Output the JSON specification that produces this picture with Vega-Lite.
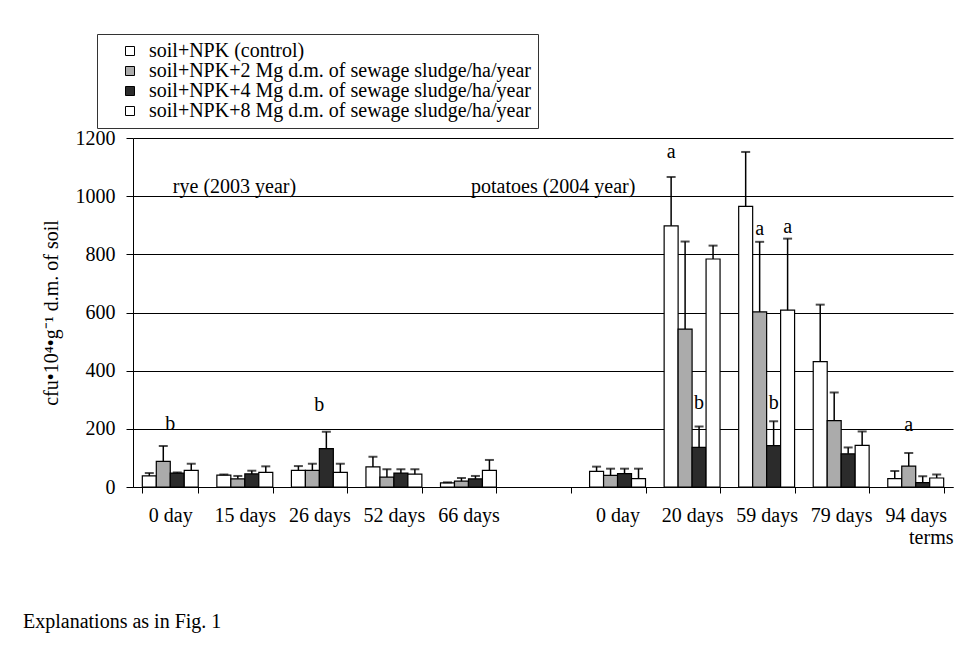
{
  "$schema": "https://vega.github.io/schema/vega-lite/v6.json",
  "width": 820,
  "height": 349,
  "autosize": {"type": "none"},
  "padding": {"left": 133, "top": 138, "right": 3, "bottom": 169},
  "background": "white",
  "title": {"text": "Explanations as in Fig. 1", "orient": "bottom", "anchor": "start", "frame": "group", "dx": -110, "offset": 65, "font": "Liberation Serif", "fontSize": 20, "fontWeight": "normal", "color": "black"},
  "config": {
    "view": {"stroke": null},
    "font": "Liberation Serif",
    "legend": {
      "orient": "none", "legendX": -36, "legendY": -104, "title": null,
      "strokeColor": "#333", "padding": 7, "symbolOffset": 16, "symbolType": "square", "symbolSize": 81,
      "symbolStrokeColor": "black", "symbolStrokeWidth": 1, "labelFont": "Liberation Serif", "labelFontSize": 20,
      "labelColor": "black", "rowPadding": 0, "labelOffset": 9, "labelLimit": 1000, "fillColor": "white"
    }
  },
  "datasets": {
    "bars": [
      {"term": "rye|0 day", "series": "soil+NPK (control)", "value": 38, "err": 48},
      {"term": "rye|0 day", "series": "soil+NPK+2 Mg d.m. of sewage sludge/ha/year", "value": 88, "err": 141},
      {"term": "rye|0 day", "series": "soil+NPK+4 Mg d.m. of sewage sludge/ha/year", "value": 48, "err": 50},
      {"term": "rye|0 day", "series": "soil+NPK+8 Mg d.m. of sewage sludge/ha/year", "value": 57, "err": 80},
      {"term": "rye|15 days", "series": "soil+NPK (control)", "value": 41, "err": 43},
      {"term": "rye|15 days", "series": "soil+NPK+2 Mg d.m. of sewage sludge/ha/year", "value": 28, "err": 38},
      {"term": "rye|15 days", "series": "soil+NPK+4 Mg d.m. of sewage sludge/ha/year", "value": 45, "err": 56},
      {"term": "rye|15 days", "series": "soil+NPK+8 Mg d.m. of sewage sludge/ha/year", "value": 50, "err": 71},
      {"term": "rye|26 days", "series": "soil+NPK (control)", "value": 57, "err": 72},
      {"term": "rye|26 days", "series": "soil+NPK+2 Mg d.m. of sewage sludge/ha/year", "value": 57, "err": 80},
      {"term": "rye|26 days", "series": "soil+NPK+4 Mg d.m. of sewage sludge/ha/year", "value": 132, "err": 190},
      {"term": "rye|26 days", "series": "soil+NPK+8 Mg d.m. of sewage sludge/ha/year", "value": 50, "err": 80},
      {"term": "rye|52 days", "series": "soil+NPK (control)", "value": 69, "err": 104},
      {"term": "rye|52 days", "series": "soil+NPK+2 Mg d.m. of sewage sludge/ha/year", "value": 34, "err": 61},
      {"term": "rye|52 days", "series": "soil+NPK+4 Mg d.m. of sewage sludge/ha/year", "value": 48, "err": 61},
      {"term": "rye|52 days", "series": "soil+NPK+8 Mg d.m. of sewage sludge/ha/year", "value": 44, "err": 61},
      {"term": "rye|66 days", "series": "soil+NPK (control)", "value": 14, "err": 16},
      {"term": "rye|66 days", "series": "soil+NPK+2 Mg d.m. of sewage sludge/ha/year", "value": 20, "err": 31},
      {"term": "rye|66 days", "series": "soil+NPK+4 Mg d.m. of sewage sludge/ha/year", "value": 28, "err": 38},
      {"term": "rye|66 days", "series": "soil+NPK+8 Mg d.m. of sewage sludge/ha/year", "value": 57, "err": 93},
      {"term": "pot|0 day", "series": "soil+NPK (control)", "value": 54, "err": 70},
      {"term": "pot|0 day", "series": "soil+NPK+2 Mg d.m. of sewage sludge/ha/year", "value": 40, "err": 63},
      {"term": "pot|0 day", "series": "soil+NPK+4 Mg d.m. of sewage sludge/ha/year", "value": 46, "err": 63},
      {"term": "pot|0 day", "series": "soil+NPK+8 Mg d.m. of sewage sludge/ha/year", "value": 29, "err": 63},
      {"term": "pot|20 days", "series": "soil+NPK (control)", "value": 898, "err": 1066},
      {"term": "pot|20 days", "series": "soil+NPK+2 Mg d.m. of sewage sludge/ha/year", "value": 543, "err": 844},
      {"term": "pot|20 days", "series": "soil+NPK+4 Mg d.m. of sewage sludge/ha/year", "value": 136, "err": 208},
      {"term": "pot|20 days", "series": "soil+NPK+8 Mg d.m. of sewage sludge/ha/year", "value": 784, "err": 830},
      {"term": "pot|59 days", "series": "soil+NPK (control)", "value": 965, "err": 1152},
      {"term": "pot|59 days", "series": "soil+NPK+2 Mg d.m. of sewage sludge/ha/year", "value": 602, "err": 843},
      {"term": "pot|59 days", "series": "soil+NPK+4 Mg d.m. of sewage sludge/ha/year", "value": 142, "err": 226},
      {"term": "pot|59 days", "series": "soil+NPK+8 Mg d.m. of sewage sludge/ha/year", "value": 608, "err": 854},
      {"term": "pot|79 days", "series": "soil+NPK (control)", "value": 431, "err": 627},
      {"term": "pot|79 days", "series": "soil+NPK+2 Mg d.m. of sewage sludge/ha/year", "value": 228, "err": 325},
      {"term": "pot|79 days", "series": "soil+NPK+4 Mg d.m. of sewage sludge/ha/year", "value": 114, "err": 136},
      {"term": "pot|79 days", "series": "soil+NPK+8 Mg d.m. of sewage sludge/ha/year", "value": 143, "err": 191},
      {"term": "pot|94 days", "series": "soil+NPK (control)", "value": 29, "err": 55},
      {"term": "pot|94 days", "series": "soil+NPK+2 Mg d.m. of sewage sludge/ha/year", "value": 72, "err": 117},
      {"term": "pot|94 days", "series": "soil+NPK+4 Mg d.m. of sewage sludge/ha/year", "value": 15, "err": 37},
      {"term": "pot|94 days", "series": "soil+NPK+8 Mg d.m. of sewage sludge/ha/year", "value": 31, "err": 43}
    ],
    "letters": [
      {"term": "pot|20 days", "series": "soil+NPK (control)", "pos": 1132, "letter": "a"},
      {"term": "pot|20 days", "series": "soil+NPK+4 Mg d.m. of sewage sludge/ha/year", "pos": 269, "letter": "b"},
      {"term": "pot|59 days", "series": "soil+NPK+2 Mg d.m. of sewage sludge/ha/year", "pos": 867, "letter": "a"},
      {"term": "pot|59 days", "series": "soil+NPK+4 Mg d.m. of sewage sludge/ha/year", "pos": 269, "letter": "b"},
      {"term": "pot|59 days", "series": "soil+NPK+8 Mg d.m. of sewage sludge/ha/year", "pos": 874, "letter": "a"},
      {"term": "pot|94 days", "series": "soil+NPK+2 Mg d.m. of sewage sludge/ha/year", "pos": 191, "letter": "a"}
    ],
    "ryeletters": [
      {"term": "rye|0 day", "pos": 195, "letter": "b"},
      {"term": "rye|26 days", "pos": 260, "letter": "b"}
    ],
    "crops": [
      {"term": "rye|15 days", "pos": 1012, "label": "rye (2003 year)"},
      {"term": "gap| ", "pos": 1012, "label": "potatoes (2004 year)"}
    ]
  },
  "encoding": {
    "x": {
      "field": "term", "type": "nominal",
      "scale": {"domain": ["rye|0 day", "rye|15 days", "rye|26 days", "rye|52 days", "rye|66 days", "gap| ", "pot|0 day", "pot|20 days", "pot|59 days", "pot|79 days", "pot|94 days"], "paddingInner": 0.25, "paddingOuter": 0.125},
      "axis": {
        "labelExpr": "split(datum.label, '|')[1]", "labelAngle": 0, "tickBand": "extent", "tickSize": 6,
        "tickColor": "black", "domainColor": "black", "labelPadding": 12, "labelFont": "Liberation Serif",
        "labelFontSize": 20, "labelColor": "black", "title": "terms", "titleAnchor": "end", "titlePadding": 2,
        "titleFont": "Liberation Serif", "titleFontSize": 20, "titleFontWeight": "normal", "titleColor": "black", "grid": false
      }
    }
  },
  "layer": [
    {
      "data": {"name": "bars"},
      "mark": {"type": "bar", "stroke": "black", "strokeWidth": 1.2},
      "encoding": {
        "xOffset": {"field": "series", "type": "nominal", "scale": {"paddingInner": 0, "paddingOuter": 0}},
        "y": {
          "field": "value", "type": "quantitative",
          "scale": {"domain": [0, 1200], "nice": false},
          "axis": {
            "values": [0, 200, 400, 600, 800, 1000, 1200], "format": "d", "grid": true, "gridColor": "black", "gridWidth": 1, "gridOpacity": 1,
            "domainColor": "black", "tickColor": "black", "tickSize": 7, "labelPadding": 11, "labelFont": "Liberation Serif",
            "labelFontSize": 20, "labelColor": "black", "title": "cfu•10⁴•g⁻¹ d.m. of soil", "titleFont": "Liberation Serif",
            "titleFontSize": 20, "titleFontWeight": "normal", "titleColor": "black", "titlePadding": 14
          }
        },
        "fill": {
          "field": "series", "type": "nominal",
          "scale": {
            "domain": ["soil+NPK (control)", "soil+NPK+2 Mg d.m. of sewage sludge/ha/year", "soil+NPK+4 Mg d.m. of sewage sludge/ha/year", "soil+NPK+8 Mg d.m. of sewage sludge/ha/year"],
            "range": ["white", "#ababab", "#2b2b2b", "white"]
          }
        }
      }
    },
    {
      "data": {"name": "bars"},
      "mark": {"type": "rule", "color": "black", "strokeWidth": 1.5},
      "encoding": {
        "xOffset": {"field": "series", "type": "nominal"},
        "y": {"field": "value", "type": "quantitative"},
        "y2": {"field": "err"}
      }
    },
    {
      "data": {"name": "bars"},
      "mark": {"type": "tick", "color": "black", "size": 9, "thickness": 2},
      "encoding": {
        "xOffset": {"field": "series", "type": "nominal"},
        "y": {"field": "err", "type": "quantitative"}
      }
    },
    {
      "data": {"name": "letters"},
      "mark": {"type": "text", "font": "Liberation Serif", "fontSize": 20, "color": "black", "baseline": "alphabetic"},
      "encoding": {
        "xOffset": {"field": "series", "type": "nominal"},
        "y": {"field": "pos", "type": "quantitative"},
        "text": {"field": "letter"}
      }
    },
    {
      "data": {"name": "ryeletters"},
      "mark": {"type": "text", "font": "Liberation Serif", "fontSize": 20, "color": "black", "baseline": "alphabetic"},
      "encoding": {
        "y": {"field": "pos", "type": "quantitative"},
        "text": {"field": "letter"}
      }
    },
    {
      "data": {"name": "crops"},
      "mark": {"type": "text", "font": "Liberation Serif", "fontSize": 20, "color": "black", "baseline": "alphabetic", "align": "left", "dx": -44},
      "encoding": {
        "x": {"field": "term", "type": "nominal", "bandPosition": 0},
        "y": {"field": "pos", "type": "quantitative"},
        "text": {"field": "label"}
      }
    }
  ]
}
